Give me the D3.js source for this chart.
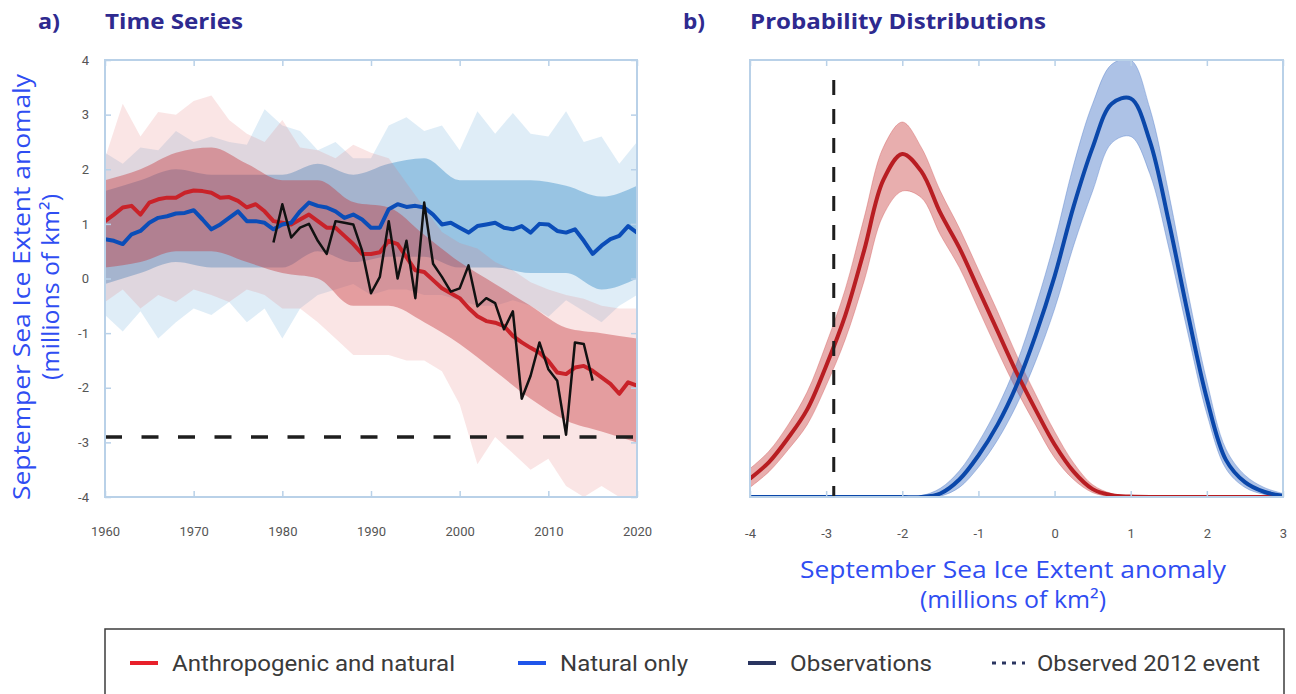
<!DOCTYPE html>
<html><head><meta charset="utf-8">
<script src="https://cdn.jsdelivr.net/npm/d3@7"></script>
<style>
html,body{margin:0;padding:0;background:#fff;}
svg{display:block;}
</style></head>
<body>
<svg id="chart" width="1296" height="694"></svg>
<script>
// ---------- DATA ----------
const firstYear = 1960;
const redMean = [1.05,1.17,1.30,1.33,1.17,1.39,1.45,1.48,1.48,1.57,1.61,1.60,1.57,1.48,1.49,1.42,1.30,1.36,1.23,1.05,
  1.02,0.99,1.08,1.17,1.05,0.93,0.93,0.78,0.63,0.45,0.45,0.48,0.69,0.63,0.39,0.15,0.12,-0.03,-0.18,-0.27,
  -0.36,-0.54,-0.69,-0.78,-0.81,-0.87,-1.05,-1.17,-1.27,-1.36,-1.51,-1.72,-1.75,-1.63,-1.60,-1.69,-1.81,-1.93,-2.11,-1.90,-1.96];
const blueMean = [0.72,0.69,0.63,0.81,0.87,1.02,1.11,1.14,1.19,1.20,1.25,1.08,0.90,0.99,1.11,1.23,1.05,1.05,1.02,0.90,
  0.99,1.02,1.23,1.39,1.33,1.30,1.23,1.11,1.17,1.08,0.93,0.93,1.27,1.36,1.31,1.33,1.30,1.17,0.99,1.02,
  0.93,0.84,0.96,0.99,1.02,0.93,0.90,0.96,0.84,1.00,0.99,0.87,0.84,0.90,0.69,0.45,0.60,0.72,0.78,0.96,0.84];
const obsFirstYear = 1979;
const observations = [0.66,1.36,0.75,0.93,1.00,0.69,0.45,1.05,1.02,0.99,0.51,-0.27,0.03,1.05,0.00,0.69,-0.36,1.39,0.27,0.03,
  -0.24,-0.18,0.24,-0.51,-0.36,-0.45,-0.93,-0.60,-2.20,-1.78,-1.17,-1.66,-1.87,-2.86,-1.17,-1.20,-1.87];
const event2012 = -2.9;

// ensemble spread (outer envelope, every 2 years from 1960)
const envYears = [1960,1962,1964,1966,1968,1970,1972,1974,1976,1978,1980,1982,1984,1986,1988,1990,1992,1994,1996,1998,2000,2002,2004,2006,2008,2010,2012,2014,2016,2018,2020];
const redHi = [2.2,3.2,2.6,3.05,3.0,3.25,3.35,2.9,2.65,2.5,2.9,2.4,2.35,2.2,2.45,2.3,2.2,1.75,1.3,0.85,0.65,0.55,0.3,0.15,-0.07,-0.2,-0.3,-0.37,-0.5,-0.55,-0.55];
const redLo = [-0.43,-0.2,-0.55,-0.3,-0.43,-0.2,-0.3,-0.43,-0.2,-0.3,-0.55,-0.55,-0.8,-1.1,-1.4,-1.4,-1.4,-1.5,-1.5,-1.7,-2.3,-3.4,-2.9,-3.2,-3.5,-3.3,-3.8,-4.0,-3.8,-4.0,-4.0];
const blueHi = [2.3,2.1,2.4,2.35,2.7,2.5,2.6,2.5,2.45,3.1,2.8,2.7,2.35,2.5,2.2,2.2,2.8,2.95,2.7,2.8,2.35,3.06,2.65,3.03,2.65,2.6,3.06,2.5,2.6,2.1,2.5];
const blueLo = [-0.67,-0.97,-0.6,-1.1,-0.8,-0.55,-0.67,-0.43,-0.8,-0.55,-1.1,-0.55,-0.3,-0.2,-0.1,-0.3,-0.2,-0.2,-0.3,-0.3,-0.4,-0.5,-0.5,-0.4,-0.5,-0.7,-0.4,-0.6,-0.8,-0.5,-0.3];
// dense core of the ensembles (every 4 years from 1960)
const coreYears = [1960,1964,1968,1972,1976,1980,1984,1988,1992,1996,2000,2004,2008,2012,2016,2020];
const redCoreHi = [1.8,2.0,2.3,2.4,2.1,1.8,1.8,1.4,1.3,0.8,0.3,-0.1,-0.5,-0.9,-1.0,-1.1];
const redCoreLo = [0.2,0.3,0.5,0.5,0.3,0.1,0.0,-0.5,-0.5,-0.8,-1.2,-1.7,-2.2,-2.6,-2.8,-3.0];
const blueCoreHi = [1.6,1.8,2.0,1.9,1.9,1.9,2.1,1.9,2.1,2.2,1.8,1.8,1.8,1.7,1.5,1.7];
const blueCoreLo = [-0.1,0.1,0.3,0.2,0.2,0.2,0.5,0.3,0.4,0.4,0.2,0.2,0.1,0.1,-0.2,0.0];

// probability distributions
const pdfX = [-4,-3.75,-3.5,-3.25,-3,-2.75,-2.5,-2.25,-2,-1.75,-1.5,-1.25,-1,-0.75,-0.5,-0.25,0,0.25,0.5,0.75,1,1.25,1.5,1.75,2,2.25,2.5,2.75,3];
const redPdf   = [0.042,0.08,0.135,0.20,0.30,0.415,0.565,0.725,0.785,0.745,0.65,0.57,0.475,0.38,0.285,0.20,0.12,0.058,0.018,0.004,0.001,0,0,0,0,0,0,0,0];
const redPdfHi = [0.065,0.105,0.165,0.24,0.35,0.475,0.64,0.80,0.858,0.80,0.70,0.615,0.52,0.425,0.325,0.235,0.15,0.078,0.028,0.008,0.002,0,0,0,0,0,0,0,0];
const redPdfLo = [0.022,0.058,0.108,0.165,0.255,0.36,0.495,0.645,0.70,0.685,0.60,0.525,0.43,0.335,0.245,0.165,0.09,0.04,0.01,0.001,0,0,0,0,0,0,0,0,0];
const bluePdf   = [0,0,0,0,0,0,0,0,0,0,0.008,0.04,0.095,0.165,0.255,0.37,0.505,0.665,0.80,0.900,0.912,0.815,0.63,0.42,0.225,0.085,0.034,0.012,0.003];
const bluePdfHi = [0,0,0,0,0,0,0,0,0,0.003,0.02,0.06,0.125,0.205,0.305,0.435,0.585,0.76,0.90,0.99,1.0,0.89,0.695,0.47,0.265,0.11,0.05,0.022,0.008];
const bluePdfLo = [0,0,0,0,0,0,0,0,0,0,0.002,0.022,0.068,0.13,0.21,0.31,0.43,0.575,0.70,0.81,0.825,0.74,0.57,0.375,0.19,0.065,0.022,0.006,0.001];

const yearTicks = [1960,1970,1980,1990,2000,2010,2020];
const anomTicksA = [4,3,2,1,0,-1,-2,-3,-4];
const anomTicksB = [-4,-3,-2,-1,0,1,2,3];
const legendItems = [
  {label:"Anthropogenic and natural", type:"red", w:283},
  {label:"Natural only", type:"blue", w:128},
  {label:"Observations", type:"obs", w:142},
  {label:"Observed 2012 event", type:"event", w:223}
];

// ---------- DRAW ----------
const svg = d3.select("#chart");
const FRAME = "#b9d1e8";
const TICKTXT = "#555";
const TITLE = "#2e2a8f";
const AXTITLE = "#2f4df2";
const fmt = d => String(d);

const xa = d3.scaleLinear([1960,2020],[105,637]);
const ya = d3.scaleLinear([-4,4],[497,60]);
const xb = d3.scaleLinear([-4,3],[750,1283]);
const yb = d3.scaleLinear([0,1],[497,60]);

const defs = svg.append("defs");
defs.append("clipPath").attr("id","clipA").append("rect").attr("x",105).attr("y",60).attr("width",532).attr("height",437);
defs.append("clipPath").attr("id","clipB").append("rect").attr("x",750).attr("y",60).attr("width",533).attr("height",437);

// panel titles
function title(x, t, len){
  const el = svg.append("text").attr("x",x).attr("y",29).text(t)
    .attr("font-family","'Open Sans',sans-serif").attr("font-weight",700).attr("font-size",22)
    .attr("fill",TITLE);
  if(len) el.attr("textLength",len).attr("lengthAdjust","spacingAndGlyphs");
}
title(38,"a)",22); title(105,"Time Series",138);
title(683,"b)",22); title(750,"Probability Distributions",296);

// ----- panel a -----
const gA = svg.append("g").attr("clip-path","url(#clipA)");
const idx = (arr, start) => arr.map((v,i)=>({x:start+i, v}));
const envRed = envYears.map((yr,i)=>({x:yr, lo:redLo[i], hi:redHi[i]}));
const envBlue = envYears.map((yr,i)=>({x:yr, lo:blueLo[i], hi:blueHi[i]}));
const coreRed = coreYears.map((yr,i)=>({x:yr, lo:redCoreLo[i], hi:redCoreHi[i]}));
const coreBlue = coreYears.map((yr,i)=>({x:yr, lo:blueCoreLo[i], hi:blueCoreHi[i]}));
const areaA = d3.area().x(d=>xa(d.x)).y0(d=>ya(d.lo)).y1(d=>ya(d.hi)).curve(d3.curveLinear);
const areaAs = d3.area().x(d=>xa(d.x)).y0(d=>ya(d.lo)).y1(d=>ya(d.hi)).curve(d3.curveMonotoneX);

gA.append("path").datum(envBlue).attr("d",areaA).attr("fill","rgb(110,175,220)").attr("fill-opacity",0.22);
gA.append("path").datum(coreBlue).attr("d",areaAs).attr("fill","rgb(55,140,200)").attr("fill-opacity",0.42);
gA.append("path").datum(envRed).attr("d",areaA).attr("fill","rgb(225,110,110)").attr("fill-opacity",0.18);
gA.append("path").datum(coreRed).attr("d",areaAs).attr("fill","rgb(195,50,55)").attr("fill-opacity",0.40);

const lineA = d3.line().x(d=>xa(d.x)).y(d=>ya(d.v));
gA.append("path").datum(idx(redMean,firstYear)).attr("d",lineA).attr("fill","none")
  .attr("stroke","#c92229").attr("stroke-width",4).attr("stroke-linejoin","round");
gA.append("path").datum(idx(blueMean,firstYear)).attr("d",lineA).attr("fill","none")
  .attr("stroke","#0b4db8").attr("stroke-width",4).attr("stroke-linejoin","round");
gA.append("path").datum(idx(observations,obsFirstYear)).attr("d",lineA).attr("fill","none")
  .attr("stroke","#111").attr("stroke-width",2.5).attr("stroke-linejoin","round");
gA.append("line").attr("x1",xa(1960)).attr("x2",xa(2020)).attr("y1",ya(event2012)).attr("y2",ya(event2012))
  .attr("stroke","#1e1e1e").attr("stroke-width",3.5).attr("stroke-dasharray","17,19.5");

// frame + ticks panel a
function styleAxis(g){
  g.select(".domain").remove();
  g.selectAll(".tick line").attr("stroke",FRAME).attr("stroke-width",1.5);
  g.selectAll(".tick text").attr("fill",TICKTXT).attr("font-family","Roboto,sans-serif").attr("font-size",13);
}
svg.append("g").attr("transform","translate(0,497)")
  .call(d3.axisBottom(xa).tickValues(yearTicks).tickFormat(fmt).tickSize(-6).tickPadding(30)).call(styleAxis);
svg.append("g").attr("transform","translate(0,60)")
  .call(d3.axisTop(xa).tickValues(yearTicks).tickFormat("").tickSize(-6)).call(styleAxis);
svg.append("g").attr("transform","translate(105,0)")
  .call(d3.axisLeft(ya).tickValues(anomTicksA).tickFormat(fmt).tickSize(-6).tickPadding(16)).call(styleAxis);
svg.append("g").attr("transform","translate(637,0)")
  .call(d3.axisRight(ya).tickValues(anomTicksA).tickFormat("").tickSize(-6)).call(styleAxis);
svg.append("rect").attr("x",105).attr("y",60).attr("width",532).attr("height",437)
  .attr("fill","none").attr("stroke",FRAME).attr("stroke-width",2);

// y title
const yt = svg.append("g").attr("transform","translate(0,287) rotate(-90)");
yt.append("text").attr("x",0).attr("y",30).attr("text-anchor","middle").text("Septemper Sea Ice Extent anomaly")
  .attr("font-family","'Open Sans',sans-serif").attr("font-size",23).attr("fill",AXTITLE)
  .attr("textLength",426).attr("lengthAdjust","spacingAndGlyphs");
yt.append("text").attr("x",0).attr("y",59).attr("text-anchor","middle").text("(millions of km²)")
  .attr("font-family","'Open Sans',sans-serif").attr("font-size",23).attr("fill",AXTITLE)
  .attr("textLength",186).attr("lengthAdjust","spacingAndGlyphs");

// ----- panel b -----
const gB = svg.append("g").attr("clip-path","url(#clipB)");
const mk = (m,lo,hi)=>pdfX.map((x,i)=>({x, v:m[i], lo:lo[i], hi:hi[i]}));
const redD = mk(redPdf,redPdfLo,redPdfHi);
const blueD = mk(bluePdf,bluePdfLo,bluePdfHi);
const areaB = d3.area().x(d=>xb(d.x)).y0(d=>yb(d.lo)).y1(d=>yb(d.hi)).curve(d3.curveCatmullRom.alpha(0.5));
const lineB = d3.line().x(d=>xb(d.x)).y(d=>yb(d.v)).curve(d3.curveCatmullRom.alpha(0.5));

gB.append("path").datum(redD).attr("d",areaB).attr("fill","rgb(205,75,75)").attr("fill-opacity",0.45)
  .attr("stroke","rgb(205,75,75)").attr("stroke-opacity",0.35).attr("stroke-width",1);
gB.append("path").datum(blueD).attr("d",areaB).attr("fill","rgb(60,110,195)").attr("fill-opacity",0.42)
  .attr("stroke","rgb(60,110,195)").attr("stroke-opacity",0.35).attr("stroke-width",1);
gB.append("path").datum(redD).attr("d",lineB).attr("fill","none").attr("stroke","#b81d22").attr("stroke-width",4);
gB.append("path").datum(blueD).attr("d",lineB).attr("fill","none").attr("stroke","#0a47aa").attr("stroke-width",4);
gB.append("line").attr("x1",xb(event2012)).attr("x2",xb(event2012)).attr("y1",80).attr("y2",497)
  .attr("stroke","#1e1e1e").attr("stroke-width",3).attr("stroke-dasharray","15,14");

svg.append("g").attr("transform","translate(0,497)")
  .call(d3.axisBottom(xb).tickValues(anomTicksB).tickFormat(fmt).tickSize(-6).tickPadding(32)).call(styleAxis);
svg.append("g").attr("transform","translate(0,60)")
  .call(d3.axisTop(xb).tickValues(anomTicksB).tickFormat("").tickSize(-6)).call(styleAxis);
svg.append("rect").attr("x",750).attr("y",60).attr("width",533).attr("height",437)
  .attr("fill","none").attr("stroke",FRAME).attr("stroke-width",2);

svg.append("text").attr("x",1013).attr("y",578).attr("text-anchor","middle").text("September Sea Ice Extent anomaly")
  .attr("font-family","'Open Sans',sans-serif").attr("font-size",23).attr("fill",AXTITLE)
  .attr("textLength",426).attr("lengthAdjust","spacingAndGlyphs");
svg.append("text").attr("x",1013).attr("y",608).attr("text-anchor","middle").text("(millions of km²)")
  .attr("font-family","'Open Sans',sans-serif").attr("font-size",23).attr("fill",AXTITLE)
  .attr("textLength",186).attr("lengthAdjust","spacingAndGlyphs");

// ----- legend -----
svg.append("rect").attr("x",105).attr("y",629).attr("width",1179).attr("height",80)
  .attr("fill","none").attr("stroke","#3c3c3c").attr("stroke-width",1.5);
const legX = [130,518,748,992];
const legG = svg.selectAll(".leg").data(legendItems).join("g").attr("class","leg")
  .attr("transform",(d,i)=>`translate(${legX[i]},663)`);
legG.each(function(d){
  const g = d3.select(this);
  if(d.type==="event"){
    g.append("line").attr("x1",0).attr("x2",33).attr("y1",0).attr("y2",0)
      .attr("stroke","#2a3560").attr("stroke-width",3).attr("stroke-dasharray","4,6");
  } else {
    const c = d.type==="red" ? "#e8202a" : d.type==="blue" ? "#2055ea" : "#2a3560";
    g.append("line").attr("x1",0).attr("x2",28).attr("y1",0).attr("y2",0).attr("stroke",c).attr("stroke-width",4);
  }
  g.append("text").attr("x", d.type==="event"?45:42).attr("y",8).text(d.label)
    .attr("font-family","Roboto,sans-serif").attr("font-size",22).attr("fill","#3a3a3a")
    .attr("textLength",d.w).attr("lengthAdjust","spacingAndGlyphs");
});
</script>
</body></html>
